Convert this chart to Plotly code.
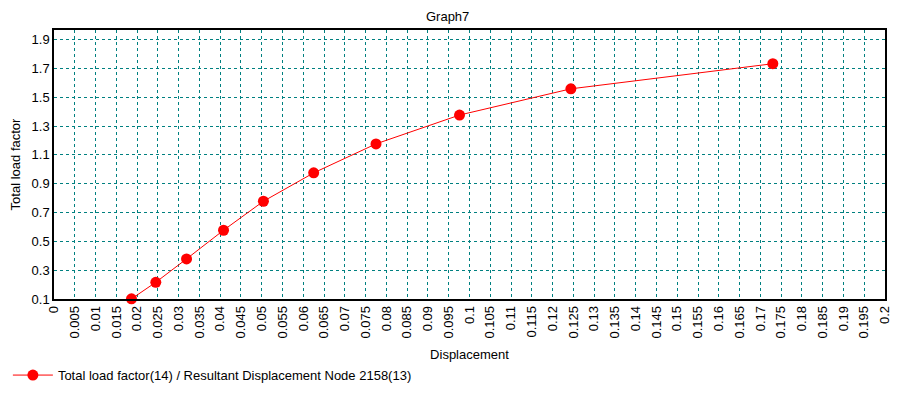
import plotly.graph_objects as go

# Data
displacement = [0.01865, 0.0245, 0.0319, 0.0408, 0.0504, 0.0625, 0.0775, 0.0976, 0.1244, 0.1730]
load_factor = [0.101, 0.216, 0.378, 0.577, 0.778, 0.975, 1.176, 1.376, 1.558, 1.732]

x_tick_vals = [i * 0.005 for i in range(41)]
x_tick_text = ["0"] + [("%.3f" % v).rstrip("0") for v in x_tick_vals[1:]]
y_tick_vals = [0.1, 0.3, 0.5, 0.7, 0.9, 1.1, 1.3, 1.5, 1.7, 1.9]
y_tick_text = ["0.1", "0.3", "0.5", "0.7", "0.9", "1.1", "1.3", "1.5", "1.7", "1.9"]

series_name = "Total load factor(14) / Resultant Displacement Node 2158(13)"

FONT = "Liberation Sans, Arial, sans-serif"
FS = 13

fig = go.Figure()
fig.add_trace(go.Scatter(
    x=displacement, y=load_factor, mode="lines+markers", name=series_name,
    line=dict(color="#ff0000", width=1),
    marker=dict(color="#ff0000", size=11, line=dict(width=0)),
    cliponaxis=False,
))

grid = dict(showgrid=True, gridcolor="#008080", griddash="3px,3px", gridwidth=1,
            showline=True, linecolor="black", linewidth=1.5, mirror=True,
            zeroline=False, ticks="", automargin=False,
            tickfont=dict(family=FONT, size=FS, color="black"))

fig.update_layout(
    width=890, height=382,
    margin=dict(l=46, r=13, t=22, b=91, autoexpand=False),
    paper_bgcolor="white", plot_bgcolor="white",
    font=dict(family=FONT, size=FS, color="black"),
    title=dict(text="Graph7", x=0.494, xanchor="center", y=0.979, yanchor="middle",
               font=dict(family=FONT, size=FS, color="black")),
    xaxis=dict(range=[0, 0.2], tickmode="array", tickvals=x_tick_vals, ticktext=x_tick_text,
               tickangle=-90, title=dict(text="Displacement", standoff=12,
                                         font=dict(family=FONT, size=FS)), **grid),
    yaxis=dict(range=[0.1, 1.966], tickmode="array", tickvals=y_tick_vals, ticktext=y_tick_text,
               title=dict(text="Total load factor", standoff=8,
                          font=dict(family=FONT, size=FS)), **grid),
    showlegend=True,
    legend=dict(x=-0.0555, xanchor="left", y=-0.283, yanchor="middle",
                bgcolor="rgba(0,0,0,0)", font=dict(family=FONT, size=FS, color="black"),
                itemwidth=40),
)

fig.write_html("out.html")
